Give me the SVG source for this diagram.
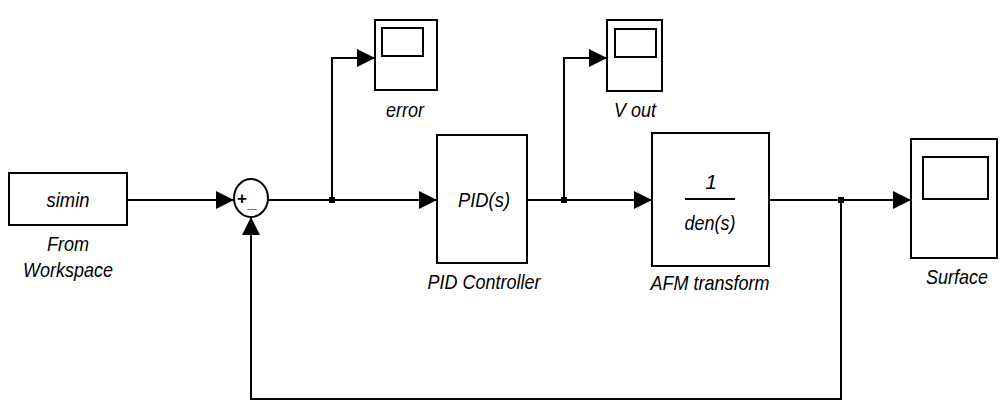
<svg xmlns="http://www.w3.org/2000/svg" width="1000" height="405" viewBox="0 0 1000 405">
<style>
.blk{fill:#fff;stroke:#000;stroke-width:2}
.in{fill:none;stroke:#000;stroke-width:2}
.ln{fill:none;stroke:#000;stroke-width:2}
.t{font-family:"Liberation Sans",Arial,sans-serif;font-style:italic;font-size:21px;fill:#000;text-anchor:middle}
.s{font-family:"Liberation Sans",Arial,sans-serif;font-size:17px;font-weight:bold;fill:#000;text-anchor:middle}
</style>
<defs>
<marker id="ah" markerUnits="userSpaceOnUse" markerWidth="20" markerHeight="20" refX="18" refY="9" orient="auto">
<path d="M0,0 L18,9 L0,18 Z" fill="#000"/>
</marker>
</defs>
<g id="connectors">
<path class="ln" d="M127,200 H234" marker-end="url(#ah)"/>
<path class="ln" d="M268,200 H437" marker-end="url(#ah)"/>
<path class="ln" d="M332,200 V58 H375" marker-end="url(#ah)"/>
<path class="ln" d="M527,200 H652" marker-end="url(#ah)"/>
<path class="ln" d="M564,200 V58 H607" marker-end="url(#ah)"/>
<path class="ln" d="M769,200 H911" marker-end="url(#ah)"/>
<path class="ln" d="M841,200 V399 H251 V217" marker-end="url(#ah)"/>
<rect x="329" y="197" width="6" height="6" fill="#000"/>
<rect x="561" y="197" width="6" height="6" fill="#000"/>
<rect x="838" y="197" width="6" height="6" fill="#000"/>
</g>
<g id="fromWorkspace">
<rect class="blk" x="9" y="173" width="118" height="52"/>
<text class="t" x="68" y="207" textLength="43" lengthAdjust="spacingAndGlyphs">simin</text>
<text class="t" x="68" y="251" textLength="42" lengthAdjust="spacingAndGlyphs">From</text>
<text class="t" x="68" y="277" textLength="90" lengthAdjust="spacingAndGlyphs">Workspace</text>
</g>
<g id="sum">
<ellipse class="blk" cx="251" cy="198" rx="17" ry="19"/>
<text class="s" x="242" y="204">+</text>
<text class="s" x="252" y="208">_</text>
</g>
<g id="errorScope">
<rect class="blk" x="375" y="20" width="62" height="70"/>
<rect class="in" x="382" y="28" width="41" height="28"/>
<text class="t" x="405" y="117" textLength="38" lengthAdjust="spacingAndGlyphs">error</text>
</g>
<g id="pid">
<rect class="blk" x="437" y="135" width="90" height="128"/>
<text class="t" x="484" y="207" textLength="52" lengthAdjust="spacingAndGlyphs">PID(s)</text>
<text class="t" x="484" y="289" textLength="113" lengthAdjust="spacingAndGlyphs">PID Controller</text>
</g>
<g id="voutScope">
<rect class="blk" x="607" y="20" width="55" height="71"/>
<rect class="in" x="615" y="29" width="41" height="28"/>
<text class="t" x="635" y="117" textLength="42" lengthAdjust="spacingAndGlyphs">V out</text>
</g>
<g id="afm">
<rect class="blk" x="652" y="133" width="117" height="133"/>
<text class="t" x="711" y="189">1</text>
<line class="ln" x1="685" y1="199" x2="735" y2="199"/>
<text class="t" x="710" y="230" textLength="51" lengthAdjust="spacingAndGlyphs">den(s)</text>
<text class="t" x="710" y="290" textLength="119" lengthAdjust="spacingAndGlyphs">AFM transform</text>
</g>
<g id="surfaceScope">
<rect class="blk" x="911" y="139" width="86" height="119"/>
<rect class="in" x="923" y="157" width="65" height="42"/>
<text class="t" x="957" y="284" textLength="62" lengthAdjust="spacingAndGlyphs">Surface</text>
</g>
</svg>
